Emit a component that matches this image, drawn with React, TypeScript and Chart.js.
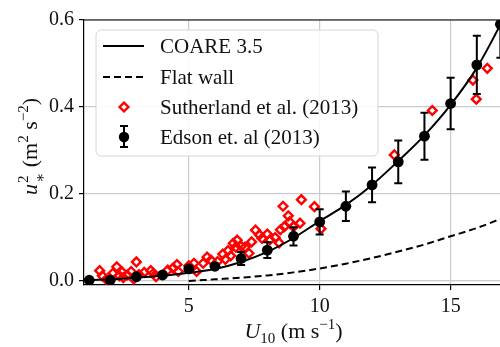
import React, { useEffect, useRef } from "react";
import { Chart, registerables } from "chart.js";
Chart.register(...registerables);

// COARE 3.5 curve
const coareU = [1, 2, 3, 4, 5, 6, 7, 8, 9, 10, 11, 12, 13, 14, 15, 16, 17];
const coareY = [0.002, 0.004, 0.008, 0.012, 0.019, 0.028, 0.044, 0.067, 0.099, 0.138, 0.175, 0.221, 0.276, 0.335, 0.405, 0.49, 0.6];

// Flat wall curve
const flatU = [5, 6, 7, 8, 9, 10, 11, 12, 13, 14, 15, 16, 17];
const flatY = [0.0, 0.004, 0.008, 0.013, 0.02, 0.029, 0.04, 0.053, 0.068, 0.084, 0.103, 0.122, 0.145];

// Sutherland et al. (2013)
const suthU = [1.6, 1.7, 1.85, 2.0, 2.1, 2.25, 2.35, 2.45, 2.5, 2.65, 2.8, 2.9, 3.0, 3.1, 3.3, 3.55, 3.65, 3.75, 4.2, 4.4, 4.55, 4.6, 5.0, 5.2, 5.3, 5.55, 5.7, 5.85, 6.1, 6.3, 6.4, 6.5, 6.6, 6.7, 6.8, 6.85, 7.0, 7.15, 7.3, 7.4, 7.55, 7.7, 7.8, 8.0, 8.1, 8.3, 8.45, 8.5, 8.6, 8.65, 8.8, 8.85, 9.0, 9.25, 9.3, 9.8, 10.05, 12.85, 14.3, 15.85, 15.98, 16.4];
const suthY = [0.024, 0.012, 0.004, 0.005, 0.018, 0.033, 0.012, 0.021, 0.008, 0.014, 0.022, 0.005, 0.044, 0.015, 0.02, 0.024, 0.018, 0.01, 0.025, 0.03, 0.038, 0.022, 0.035, 0.041, 0.022, 0.041, 0.055, 0.048, 0.045, 0.062, 0.05, 0.07, 0.058, 0.087, 0.078, 0.094, 0.08, 0.078, 0.064, 0.09, 0.117, 0.106, 0.098, 0.108, 0.095, 0.1, 0.088, 0.118, 0.172, 0.125, 0.15, 0.136, 0.125, 0.133, 0.187, 0.171, 0.12, 0.29, 0.392, 0.462, 0.418, 0.489];

// Edson et al (2013)
const edsonU = [1.2, 2.0, 3.0, 4.0, 5.0, 6.0, 7.0, 8.0, 9.0, 10.0, 11.0, 12.0, 13.0, 14.0, 15.0, 16.0, 16.9];
const edsonY = [0.002, 0.002, 0.01, 0.014, 0.028, 0.034, 0.052, 0.071, 0.103, 0.136, 0.172, 0.221, 0.274, 0.333, 0.408, 0.497, 0.59];
const edsonErr = [0.002, 0.002, 0.003, 0.004, 0.005, 0.006, 0.015, 0.018, 0.021, 0.029, 0.034, 0.04, 0.049, 0.054, 0.059, 0.067, 0.077];

const xTicks = [5, 10, 15];
const yTicks = [0.0, 0.2, 0.4, 0.6];
const legendLabels = ["COARE 3.5", "Flat wall", "Sutherland et al. (2013)", "Edson et. al (2013)"];
const xTitle = { base: "U", sub: "10", rest: " (m s", sup: "−1", end: ")" };

const SERIF = '"Liberation Serif", "DejaVu Serif", serif';

type Part = { t: string; size: number; dy?: number; italic?: boolean };

function drawRich(ctx: CanvasRenderingContext2D, parts: Part[], cx: number, baseY: number) {
  const fontOf = (p: { size: number; italic?: boolean }) => `${p.italic ? "italic " : ""}${p.size}px ${SERIF}`;
  const widths = parts.map((p) => {
    ctx.font = fontOf(p);
    return ctx.measureText(p.t).width;
  });
  const total = widths.reduce((a, b) => a + b, 0);
  let x = cx - total / 2;
  ctx.textAlign = "left";
  ctx.textBaseline = "alphabetic";
  parts.forEach((p, i) => {
    ctx.font = fontOf(p);
    ctx.fillText(p.t, x, baseY + (p.dy || 0));
    x += widths[i];
  });
}

export default function App() {
  const ref = useRef<HTMLCanvasElement>(null);
  useEffect(() => {
    const canvas = ref.current!;
    const pts = (xs: number[], ys: number[]) => xs.map((x, i) => ({ x, y: ys[i] }));

    const custom = {
      id: "custom",
      beforeDatasetDraw(chart: any, args: any) {
        if (args.index !== 3) return;
        const { ctx, chartArea: ca } = chart;
        const xs = chart.scales.x;
        const ys = chart.scales.y;
        ctx.save();
        ctx.beginPath();
        ctx.rect(ca.left, ca.top, ca.right - ca.left, ca.bottom - ca.top);
        ctx.clip();
        ctx.strokeStyle = "#000";
        ctx.lineWidth = 2;
        edsonU.forEach((u, i) => {
          const px = xs.getPixelForValue(u);
          const y1 = ys.getPixelForValue(edsonY[i] - edsonErr[i]);
          const y2 = ys.getPixelForValue(edsonY[i] + edsonErr[i]);
          ctx.beginPath();
          ctx.moveTo(px, y1);
          ctx.lineTo(px, y2);
          ctx.moveTo(px - 4, y1);
          ctx.lineTo(px + 4, y1);
          ctx.moveTo(px - 4, y2);
          ctx.lineTo(px + 4, y2);
          ctx.stroke();
        });
        ctx.restore();
      },
      afterDraw(chart: any) {
        const { ctx, chartArea: ca } = chart;
        ctx.save();
        // top spine
        ctx.strokeStyle = "#000";
        ctx.lineWidth = 1.2;
        ctx.beginPath();
        ctx.moveTo(ca.left, ca.top);
        ctx.lineTo(ca.right, ca.top);
        ctx.stroke();

        // legend box
        const lx = 96, ly = 30, lw = 282, lh = 126, r = 5;
        ctx.beginPath();
        ctx.moveTo(lx + r, ly);
        ctx.lineTo(lx + lw - r, ly);
        ctx.arcTo(lx + lw, ly, lx + lw, ly + r, r);
        ctx.lineTo(lx + lw, ly + lh - r);
        ctx.arcTo(lx + lw, ly + lh, lx + lw - r, ly + lh, r);
        ctx.lineTo(lx + r, ly + lh);
        ctx.arcTo(lx, ly + lh, lx, ly + lh - r, r);
        ctx.lineTo(lx, ly + r);
        ctx.arcTo(lx, ly, lx + r, ly, r);
        ctx.closePath();
        ctx.fillStyle = "rgba(255,255,255,0.85)";
        ctx.fill();
        ctx.strokeStyle = "#d6d6d6";
        ctx.lineWidth = 1;
        ctx.stroke();

        const rows = [46, 77, 107, 137];
        const hx0 = 103, hx1 = 144, hc = 124;
        ctx.strokeStyle = "#000";
        ctx.lineWidth = 2;
        ctx.beginPath();
        ctx.moveTo(hx0, rows[0]);
        ctx.lineTo(hx1, rows[0]);
        ctx.stroke();
        ctx.setLineDash([7, 4]);
        ctx.beginPath();
        ctx.moveTo(hx0, rows[1]);
        ctx.lineTo(hx1, rows[1]);
        ctx.stroke();
        ctx.setLineDash([]);
        // diamond
        ctx.strokeStyle = "#ff0000";
        ctx.lineWidth = 2.4;
        const d = 4.4;
        ctx.beginPath();
        ctx.moveTo(hc, rows[2] - d);
        ctx.lineTo(hc + d, rows[2]);
        ctx.lineTo(hc, rows[2] + d);
        ctx.lineTo(hc - d, rows[2]);
        ctx.closePath();
        ctx.stroke();
        // errorbar marker
        ctx.strokeStyle = "#000";
        ctx.lineWidth = 2;
        ctx.beginPath();
        ctx.moveTo(hc, rows[3] - 11);
        ctx.lineTo(hc, rows[3] + 10);
        ctx.moveTo(hc - 4, rows[3] - 11);
        ctx.lineTo(hc + 4, rows[3] - 11);
        ctx.moveTo(hc - 4, rows[3] + 10);
        ctx.lineTo(hc + 4, rows[3] + 10);
        ctx.stroke();
        ctx.fillStyle = "#000";
        ctx.beginPath();
        ctx.arc(hc, rows[3], 5.2, 0, Math.PI * 2);
        ctx.fill();

        ctx.fillStyle = "#111";
        ctx.font = `21px ${SERIF}`;
        ctx.textAlign = "left";
        ctx.textBaseline = "alphabetic";
        legendLabels.forEach((t, i) => ctx.fillText(t, 160, rows[i] + 7));

        // x title
        ctx.fillStyle = "#111";
        drawRich(
          ctx,
          [
            { t: xTitle.base, size: 22, italic: true },
            { t: xTitle.sub, size: 15, dy: 5 },
            { t: xTitle.rest, size: 22 },
            { t: xTitle.sup, size: 15, dy: -9 },
            { t: xTitle.end, size: 22 },
          ],
          (ca.left + ca.right) / 2,
          338
        );

        // y title (rotated)
        ctx.save();
        ctx.translate(37, 147);
        ctx.rotate(-Math.PI / 2);
        const big = `22px ${SERIF}`;
        const it = `italic 22px ${SERIF}`;
        const small = `15px ${SERIF}`;
        ctx.font = it;
        const wu = ctx.measureText("u").width;
        ctx.font = small;
        const w2 = Math.max(ctx.measureText("2").width, ctx.measureText("∗").width);
        ctx.font = big;
        const wA = ctx.measureText(" (m").width;
        ctx.font = small;
        const wB = ctx.measureText("2").width;
        ctx.font = big;
        const wC = ctx.measureText(" s").width;
        ctx.font = small;
        const wD = ctx.measureText("−2").width;
        ctx.font = big;
        const wE = ctx.measureText(")").width;
        const total = wu + w2 + wA + wB + wC + wD + wE;
        let x = -total / 2;
        ctx.textAlign = "left";
        ctx.textBaseline = "alphabetic";
        ctx.font = it;
        ctx.fillText("u", x, 0);
        x += wu + 1;
        ctx.font = small;
        ctx.fillText("2", x, -9);
        ctx.fillText("∗", x, 8);
        x += w2;
        ctx.font = big;
        ctx.fillText(" (m", x, 0);
        x += wA;
        ctx.font = small;
        ctx.fillText("2", x, -9);
        x += wB;
        ctx.font = big;
        ctx.fillText(" s", x, 0);
        x += wC;
        ctx.font = small;
        ctx.fillText("−2", x, -9);
        x += wD;
        ctx.font = big;
        ctx.fillText(")", x, 0);
        ctx.restore();

        ctx.restore();
      },
    };

    const chart = new Chart(canvas, {
      type: "scatter",
      data: {
        datasets: [
          {
            label: "Sutherland",
            data: pts(suthU, suthY),
            pointStyle: "rectRot",
            pointRadius: 4.4,
            borderWidth: 2.4,
            borderColor: "#ff0000",
            backgroundColor: "rgba(0,0,0,0)",
            showLine: false,
            order: 4,
          },
          {
            label: "COARE",
            data: pts(coareU, coareY),
            showLine: true,
            borderColor: "#000",
            borderWidth: 2,
            pointRadius: 0,
            cubicInterpolationMode: "monotone",
            fill: false,
            order: 3,
          },
          {
            label: "Flat",
            data: pts(flatU, flatY),
            showLine: true,
            borderColor: "#000",
            borderWidth: 2,
            borderDash: [7, 4],
            pointRadius: 0,
            cubicInterpolationMode: "monotone",
            fill: false,
            order: 2,
          },
          {
            label: "Edson",
            data: pts(edsonU, edsonY),
            showLine: false,
            pointRadius: 5.4,
            pointStyle: "circle",
            backgroundColor: "#000",
            borderColor: "#000",
            borderWidth: 0,
            order: 1,
          },
        ],
      } as any,
      options: {
        responsive: false,
        animation: false,
        events: [],
        layout: { padding: { top: 20, right: 7, left: 0, bottom: 0 } },
        plugins: { legend: { display: false }, tooltip: { enabled: false } },
        scales: {
          x: {
            type: "linear",
            min: 1,
            max: 17,
            afterBuildTicks: (s: any) => {
              s.ticks = xTicks.map((v) => ({ value: v }));
            },
            afterFit: (s: any) => {
              s.height = 62;
            },
            ticks: {
              font: { family: SERIF, size: 20 },
              color: "#111",
              padding: 5,
              maxRotation: 0,
              callback: (v: any) => String(v),
            },
            grid: { color: "#cccccc", lineWidth: 1.2, tickColor: "#000", tickLength: 5 },
            border: { color: "#000", width: 1.2 },
          },
          y: {
            type: "linear",
            min: -0.009,
            max: 0.6,
            afterBuildTicks: (s: any) => {
              s.ticks = yTicks.map((v) => ({ value: v }));
            },
            afterFit: (s: any) => {
              s.width = 84;
            },
            ticks: {
              font: { family: SERIF, size: 20 },
              color: "#111",
              padding: 5,
              callback: (v: any) => Number(v).toFixed(1),
            },
            grid: { color: "#cccccc", lineWidth: 1.2, tickColor: "#000", tickLength: 5 },
            border: { color: "#000", width: 1.2 },
          },
        },
      } as any,
      plugins: [custom],
    });
    return () => chart.destroy();
  }, []);

  return (
    <div style={{ position: "fixed", left: 0, top: 0, width: 500, height: 347, overflow: "hidden", background: "#fff" }}>
      <canvas ref={ref} width={510} height={347} style={{ width: 510, height: 347, display: "block" }} />
    </div>
  );
}
